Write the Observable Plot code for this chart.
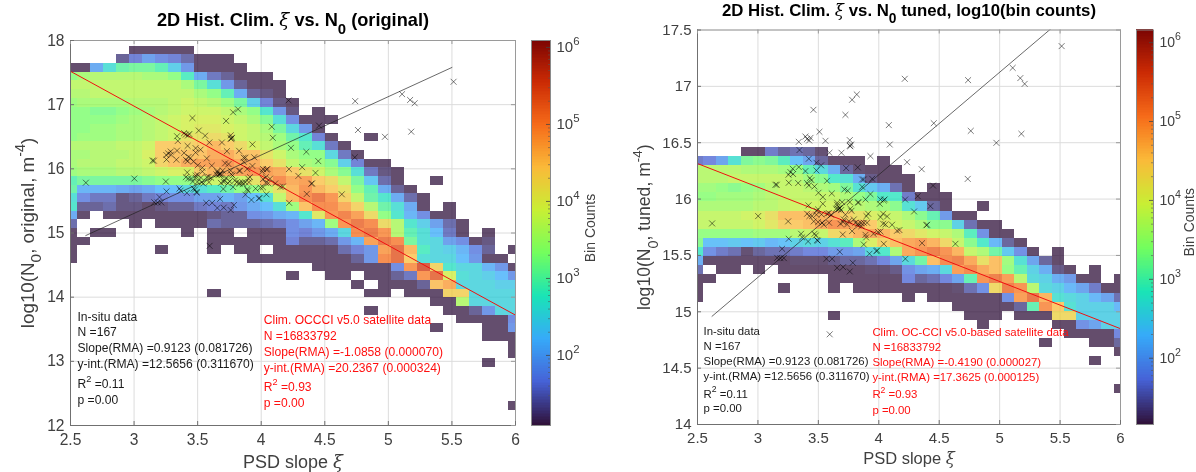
<!DOCTYPE html>
<html>
<head>
<meta charset="utf-8">
<script src="https://cdn.jsdelivr.net/npm/d3@7"></script>
<script src="https://cdn.jsdelivr.net/npm/@observablehq/plot@0.6"></script>
<style>
html,body{margin:0;padding:0;background:#fff;}
#page{position:relative;width:1196px;height:472px;overflow:hidden;filter:blur(0.4px);}
#page svg{position:absolute;top:0;overflow:visible;background:transparent;}
</style>
</head>
<body>
<div id="page"></div>
<script>
// Column bins of PSD slope (both panels)
const xBinFirst = 2.5, xBinWidth = 0.102941;

// Bin counts, log10 x 10; each row = [first column, value, value, ...], 0 = empty bin
const leftTop = 17.91, leftStep = 0.1352;
const leftRows = [
[5,11,11,11,11,11],
[4,13,16,19,17,16,14,11,11,11],
[0,11,11,20,26,30,31,31,29,24,18,11,11,11,11],
[0,33,35,36,36,36,36,35,35,33,28,20,15,13,11,11,11],
[0,37,37,37,37,37,37,37,37,37,35,31,26,18,13,11,11,11],
[0,36,36,37,37,37,37,37,37,37,37,35,33,29,20,13,12,11],
[0,34,35,35,35,35,36,36,36,37,38,37,36,34,31,24,16,12,11],
[0,33,33,32,32,33,34,35,36,37,38,38,38,37,35,33,27,18,12,0,11],
[0,33,33,33,33,34,35,36,37,38,39,39,39,38,37,35,32,26,17,11,11,11],
[0,33,33,34,34,35,35,36,37,38,39,40,40,39,38,37,35,31,25,18,11],
[0,33,34,34,34,35,35,36,37,38,41,41,42,41,38,37,36,34,30,27,16,11,0,0,11],
[0,36,36,36,36,37,37,38,44,44,43,44,46,44,42,39,37,35,33,29,26,15,11],
[0,35,35,36,36,36,37,39,44,45,45,45,47,47,45,45,41,38,35,33,33,25,15,11],
[0,35,36,36,36,37,37,38,43,45,47,48,48,49,47,47,44,41,37,35,34,32,24,16,11,11],
[0,34,35,35,35,36,36,37,38,39,39,44,46,47,48,49,48,47,44,41,38,35,32,26,15,12,11],
[0,29,31,31,31,31,31,32,33,33,33,36,38,37,38,41,46,50,47,48,44,42,37,31,23,14,11,0,0,11],
[0,30,21,21,21,20,19,20,22,22,25,26,28,30,33,33,37,41,46,49,46,44,41,33,29,20,13,11],
[0,26,17,15,15,12,13,15,16,17,17,19,19,21,19,22,26,37,46,50,52,49,43,37,30,27,20,14,11],
[0,27,13,13,14,12,12,11,12,13,13,15,16,15,18,20,22,26,34,45,50,50,47,43,36,30,26,20,11,0,11],
[0,20,11,0,11,11,11,11,11,11,11,11,12,13,13,17,18,20,21,27,40,49,51,48,42,33,27,21,17,11,11],
[0,14,0,0,0,0,11,0,11,11,11,11,14,13,13,13,14,15,17,19,21,34,49,52,50,42,36,27,24,19,14,11],
[0,11,0,11,11,0,0,0,0,0,11,0,11,11,0,11,11,11,17,16,18,20,25,50,52,49,36,29,26,22,15,11,0,11],
[0,11,11,0,0,0,0,0,0,0,0,0,11,11,11,11,11,11,16,13,13,14,18,21,48,52,50,31,26,25,19,17,11,12],
[0,11,0,0,0,0,0,0,11,0,0,0,11,0,11,11,0,11,11,11,11,11,14,16,18,48,53,46,28,25,24,21,17,13,0,11],
[0,11,0,0,0,0,0,0,0,0,0,0,0,0,0,11,11,11,11,11,11,11,11,13,18,50,53,44,26,25,25,22,18,11,11],
[19,11,11,11,11,11,11,17,49,55,43,27,25,25,21,18,11],
[17,11,0,0,11,11,0,11,11,13,15,49,53,39,26,25,24,22,18],
[22,11,0,11,11,11,13,45,47,25,25,25,24,24],
[11,11,0,0,0,0,0,0,0,0,0,0,0,11,11,0,11,11,11,43,43,25,25,25,25],
[28,11,11,36,25,25,25,25],
[23,11,0,0,0,0,0,11,11,13,18,25,25],
[30,11,11,11,11,17],
[28,11,0,0,0,11,11,18],
[32,11,11,11],
[34,11],
[34,11],
[32,11],
[],[],[],[],
[34,11]
];

const rightTop = 16.459, rightStep = 0.0808;
const rightRows = [
[4,11,11,16,14,15,14,12],
[0,16,17,20,27,32,33,32,29,23,20,14,11,11,11,0,11],
[0,37,37,37,37,36,36,36,35,34,30,26,21,14,12,11,11,11],
[0,37,37,37,38,38,38,38,38,37,35,33,28,27,21,13,11,11,11],
[0,35,35,34,33,34,35,37,38,38,37,36,35,32,27,24,21,15,11,0,11],
[0,34,34,35,35,35,36,37,38,38,38,38,38,36,34,32,28,28,16,11,11,11],
[0,36,36,36,36,36,37,37,38,39,39,39,39,38,37,36,35,33,27,24,14,11,0,0,11],
[0,38,38,38,38,39,40,42,46,46,46,47,47,44,42,40,39,38,36,33,30,19,11,11],
[0,38,38,38,38,38,39,41,44,45,46,48,50,49,48,45,41,39,38,36,33,33,25,15,11,11],
[0,34,34,34,34,34,35,35,35,37,38,38,43,45,47,48,47,45,43,41,39,38,36,29,18,11,11],
[0,33,23,23,24,23,24,22,23,25,26,25,27,29,36,40,44,46,48,49,47,43,38,33,28,22,14,11],
[0,28,18,16,15,12,14,15,15,16,17,17,19,19,20,26,28,36,48,50,52,50,47,38,36,31,24,18,11,0,11],
[0,21,11,11,11,11,11,11,11,12,12,12,13,14,14,15,17,20,26,31,46,51,52,48,42,46,35,27,20,14,11],
[0,15,0,11,11,0,11,0,11,11,11,11,11,11,11,12,12,13,18,20,21,26,49,51,48,46,34,30,25,21,13,11,0,11],
[0,11,11,0,0,0,0,0,0,0,0,0,11,11,11,11,11,11,17,14,15,17,20,30,50,52,49,37,26,25,21,19,11,11,0,11],
[0,11,0,0,0,0,0,0,11,0,0,0,11,0,11,11,11,11,11,11,11,11,12,15,18,43,52,50,37,26,25,22,20,16,11,11],
[0,11,0,0,0,0,0,0,0,0,0,0,0,0,0,0,0,0,11,0,11,11,11,11,11,11,18,49,53,47,27,26,25,22,20,15],
[21,11,11,11,11,11,14,30,50,45,27,25,25,25,22],
[11,11,0,0,0,0,0,0,0,0,0,0,11,11,11,0,11,11,11,43,43,25,25,25,25],
[23,11,0,0,0,0,0,11,11,18,20,25,25],
[30,11,11,11,11,17],
[28,11,0,0,0,11,11,14],
[34,11],
[32,11],
[],[],
[34,11]
];

// In-situ data: PSD slope and log10(N0), same 167 stations on both panels
const insituX = [3.344,3.421,3.484,3.523,3.592,3.691,3.765,3.931,3.73,3.826,3.269,3.288,3.338,3.253,3.291,3.393,3.484,3.145,3.156,3.255,3.333,3.407,3.429,3.443,3.421,3.468,3.572,3.501,3.537,3.611,3.716,3.743,3.862,3.876,3.862,3.945,3.931,3.89,4.014,4.049,4.008,4.041,3.418,3.537,3.655,3.697,3.76,3.826,3.834,3.647,3.674,3.688,3.765,3.774,3.724,3.498,3.484,3.002,2.621,3.25,3.407,3.484,3.448,3.526,3.572,3.912,3.898,4.036,4.014,4.069,3.498,3.462,3.589,3.705,3.752,3.807,3.829,3.854,3.876,3.903,4.036,4.055,4.11,3.357,3.366,3.468,3.479,3.702,3.779,3.89,3.895,3.956,3.994,4.014,4.151,4.171,4.4,3.255,3.415,3.49,3.495,3.876,4.041,4.358,3.2,3.677,3.923,3.981,3.986,4.22,3.159,3.186,3.214,3.567,3.614,3.785,3.655,3.705,3.76,3.459,3.509,3.724,3.779,3.818,4.083,3.393,3.407,3.435,3.424,3.338,3.559,3.76,3.771,3.76,4.091,4.215,4.739,5.108,5.171,5.207,5.513,4.455,4.761,5.18,4.973,4.234,4.355,4.736,4.449,4.322,4.218,4.427,4.292,4.394,4.634,3.594,3.677,3.666,3.586,3.606,3.71,3.738,3.829,3.856,3.531,3.545,3.426,3.683,3.655,3.793];
const insituY = [16.435,16.358,16.322,16.299,16.411,16.411,16.47,16.381,16.275,16.281,16.239,16.269,16.284,16.216,16.222,16.248,16.254,16.127,16.127,16.145,16.142,16.142,16.186,16.168,16.121,16.112,16.162,16.056,16.018,16.05,16.086,16.074,16.174,16.174,16.109,16.18,16.044,15.997,15.997,15.997,15.958,15.988,15.944,15.958,15.967,15.973,15.973,15.97,15.97,15.914,15.914,15.902,15.914,15.896,15.861,15.908,15.896,15.849,15.784,15.802,15.87,15.861,15.849,15.864,15.87,15.87,15.849,15.87,15.84,15.846,15.796,15.802,15.79,15.796,15.805,15.79,15.781,15.787,15.79,15.79,15.781,15.775,15.772,15.692,15.66,15.692,15.677,15.686,15.716,15.683,15.66,15.692,15.707,15.713,15.719,15.725,15.772,15.648,15.624,15.636,15.63,15.597,15.603,15.609,15.559,15.532,15.515,15.538,15.544,15.47,15.479,15.476,15.476,15.47,15.47,15.435,15.39,15.396,15.358,16.792,16.597,16.747,16.881,16.928,16.656,16.555,16.534,16.543,16.52,16.508,16.517,16.523,16.484,16.472,16.484,17.067,17.055,17.164,17.073,17.022,17.357,16.673,16.605,16.579,16.499,16.327,16.265,16.179,16.12,16.026,15.996,15.937,15.89,15.768,15.603,14.8,15.923,15.908,15.876,15.861,15.819,15.775,15.766,15.76,15.79,15.772,15.849,15.781,15.949,15.819];

// Fit lines (endpoints)
const insituFitX = [2.62, 5.5], insituFitY = [14.96, 17.58];
const leftFitX = [2.5, 6], leftFitY = [17.52, 13.72];
const rightFitX = [2.5, 6], rightFitY = [16.315, 14.85];

// Tick labels
const xTicks = [2.5,3,3.5,4,4.5,5,5.5,6];
const leftYTicks = [12,13,14,15,16,17,18];
const rightYTicks = [14,14.5,15,15.5,16,16.5,17,17.5];
const cbarTicks = [1e2,1e3,1e4,1e5,1e6];

// Annotation blocks
const insituLines = ["In-situ data","N =167","Slope(RMA) =0.9123 (0.081726)","y-int.(RMA) =12.5656 (0.311670)","R^{2} =0.11","p =0.00"];
const leftSatLines = ["Clim. OCCCI v5.0 satellite data","N =16833792","Slope(RMA) =-1.0858 (0.000070)","y-int.(RMA) =20.2367 (0.000324)","R^{2} =0.93","p =0.00"];
const rightSatLines = ["Clim. OC-CCI v5.0-based satellite data","N =16833792","Slope(RMA) =-0.4190 (0.000027)","y-int.(RMA) =17.3625 (0.000125)","R^{2} =0.93","p =0.00"];
const leftInsituYs = [13.69,13.45,13.20,12.95,12.65,12.39];
const leftSatYs = [13.65,13.40,13.15,12.90,12.60,12.35];
const rightInsituYs = [14.83,14.695,14.56,14.43,14.27,14.14];
const rightSatYs = [14.816,14.686,14.55,14.42,14.266,14.13];

const turboStops = ["#30123B","#4662D7","#36AAF9","#1AE4B6","#72FE5E","#C8EF34","#FABA39","#F66B19","#CB2A04","#7A0403"];
const turbo = d3.piecewise(d3.interpolateRgb, turboStops);

const font = "'Liberation Sans', Arial, sans-serif";
const inkGray = "#404040";

function cellsFrom(rows, top, step) {
  const out = [];
  rows.forEach((row, k) => {
    const start = row[0];
    row.slice(1).forEach((v, i) => {
      if (v > 0) {
        const c = start + i;
        const xc = xBinFirst + c * xBinWidth;
        out.push({x1: xc - xBinWidth / 2, x2: xc + xBinWidth / 2, y1: top - step * (k + 1), y2: top - step * k, v: v / 10});
      }
    });
  });
  return out;
}

// turn ^{..}, _{..} and the xi into real tspans
function rich(svg) {
  const NS = "http://www.w3.org/2000/svg";
  svg.querySelectorAll("text, tspan").forEach(el => {
    if (el.children.length) return;
    const s = el.textContent;
    if (!/\^\{|_\{|ξ/.test(s)) return;
    const fs = parseFloat(el.closest("[font-size]") ? el.closest("[font-size]").getAttribute("font-size") : 12) || 12;
    el.textContent = "";
    let pending = 0;
    s.split(/(\^\{.+?\}|_\{.+?\}|ξ)/).filter(p => p !== "").forEach(p => {
      const t = document.createElementNS(NS, "tspan");
      let shift = 0, size = null;
      if (p.startsWith("^{")) { shift = -0.48 * fs; size = 0.76 * fs; t.textContent = p.slice(2, -1); }
      else if (p.startsWith("_{")) { shift = 0.42 * fs; size = 0.82 * fs; t.textContent = p.slice(2, -1); }
      else if (p === "ξ") { t.textContent = p; t.setAttribute("font-family", "'DejaVu Serif', serif"); t.setAttribute("font-style", "italic"); t.setAttribute("font-weight", "normal"); }
      else t.textContent = p;
      if (size) t.setAttribute("font-size", size);
      const dy = pending + shift;
      if (dy) t.setAttribute("dy", dy);
      pending = -shift;
      el.appendChild(t);
    });
  });
}

function panel(o) {
  const innerH = o.height - o.mt - o.mb;
  const innerW = o.width - o.ml - o.mr;
  const fig = Plot.plot({
    width: o.width, height: o.height,
    marginLeft: o.ml, marginRight: o.mr, marginTop: o.mt, marginBottom: o.mb,
    style: {fontFamily: font, background: "transparent", color: inkGray, overflow: "visible"},
    x: {domain: [2.5, 6], label: null},
    y: {domain: o.yDomain, label: null},
    color: {type: "linear", domain: o.cDomain, interpolate: () => turbo, clamp: true},
    marks: [
      Plot.gridX(xTicks, {stroke: "#dcdcdc", strokeOpacity: 1, strokeWidth: 1}),
      Plot.gridY(o.yTicks, {stroke: "#dcdcdc", strokeOpacity: 1, strokeWidth: 1}),
      Plot.rect(o.cells, {x1: "x1", x2: "x2", y1: "y1", y2: "y2", fill: "v", fillOpacity: 0.75, clip: true, shapeRendering: "crispEdges"}),
      Plot.line(xyRows(o.fitX, o.fitY), {x: "x", y: "y", stroke: "#f01010", strokeWidth: 1, clip: true}),
      Plot.line(xyRows(insituFitX, insituFitY), {x: "x", y: "y", stroke: "#202020", strokeWidth: 0.8, strokeOpacity: 0.85, clip: true}),
      Plot.dot(xyRows(insituX, insituY), {x: "x", y: "y", symbol: "times", r: 2.8, stroke: "#000", strokeWidth: 0.65, strokeOpacity: 0.8}),
      Plot.frame({stroke: "#9a9a9a", strokeWidth: 1}),
      Plot.ruleX([2.5], {stroke: "#707070"}),
      Plot.ruleY([o.yDomain[0]], {stroke: "#707070"}),
      Plot.ruleX(xTicks, {x: d => d, stroke: "#707070", insetTop: innerH - 4}),
      Plot.ruleX(xTicks, {x: d => d, stroke: "#9a9a9a", insetBottom: innerH - 4}),
      Plot.ruleY(o.yTicks, {y: d => d, stroke: "#707070", insetRight: innerW - 4}),
      Plot.ruleY(o.yTicks, {y: d => d, stroke: "#9a9a9a", insetLeft: innerW - 4}),
      Plot.axisX(xTicks, {anchor: "bottom", tickSize: 0, tickPadding: 8, fontSize: o.tickFont, fill: inkGray, label: null, tickFormat: d => String(d)}),
      Plot.axisY(o.yTicks, {anchor: "left", tickSize: 0, tickPadding: 6, fontSize: o.tickFont, fill: inkGray, label: null, tickFormat: d => String(d)}),
      Plot.text(["2D Hist. Clim. ξ vs. N_{0} " + o.titleTail], {frameAnchor: "top", dy: o.titleDy, fontSize: o.titleSize, fontWeight: "bold", fill: "#000", lineAnchor: "middle"}),
      Plot.text(["PSD slope ξ"], {frameAnchor: "bottom", dy: o.xLabelDy, fontSize: o.xLabelSize, fill: inkGray, lineAnchor: "middle"}),
      Plot.text([o.yLabel], {frameAnchor: "left", textAnchor: "middle", dx: o.yLabelDx, rotate: -90, fontSize: o.yLabelSize, fill: inkGray, lineAnchor: "middle"}),
      Plot.text(insituLines, {x: o.insituX, y: (d, i) => o.insituYs[i], text: d => d, textAnchor: "start", fontSize: o.noteSize, fill: "#1a1a1a", lineAnchor: "middle"}),
      Plot.text(o.satLines, {x: o.satX, y: (d, i) => o.satYs[i], text: d => d, textAnchor: "start", fontSize: o.noteSize, fill: "#ff1010", lineAnchor: "middle"})
    ]
  });
  fig.style.left = o.left + "px";
  rich(fig);
  document.getElementById("page").appendChild(fig);
}

function xyRows(xs, ys) { return xs.map((x, i) => ({x, y: ys[i]})); }

function colorbar(o) {
  const innerW = o.width - o.ml - o.mr;
  const steps = d3.range(o.cDomain[0], o.cDomain[1], 0.02);
  const minor = [];
  for (const decade of cbarTicks) for (const m of [2,3,4,5,6,7,8,9]) {
    const v = decade * m;
    if (Math.log10(v) < o.cDomain[1]) minor.push(v);
  }
  for (const m of [3,4,5,6,7,8,9]) minor.push(10 * m);
  const fig = Plot.plot({
    width: o.width, height: o.height,
    marginLeft: o.ml, marginRight: o.mr, marginTop: o.mt, marginBottom: o.mb,
    style: {fontFamily: font, background: "transparent", color: inkGray, overflow: "visible"},
    y: {type: "log", domain: [Math.pow(10, o.cDomain[0]), Math.pow(10, o.cDomain[1])], label: null},
    color: {type: "linear", domain: o.cDomain, interpolate: () => turbo, clamp: true},
    marks: [
      Plot.rect(steps, {y1: d => Math.pow(10, d), y2: d => Math.pow(10, d + 0.022), fill: d => d, shapeRendering: "crispEdges"}),
      Plot.frame({stroke: "#8a8a8a", strokeWidth: 1}),
      Plot.ruleY(minor, {y: d => d, stroke: "#555", strokeWidth: 0.6, insetLeft: innerW - 2}),
      Plot.ruleY(cbarTicks, {y: d => d, stroke: "#444", strokeWidth: 0.8, insetLeft: innerW - 4}),
      Plot.axisY(cbarTicks, {anchor: "right", tickSize: 0, tickPadding: 6, fontSize: o.tickFont, fill: inkGray, label: null,
        tickFormat: d => "10^{" + Math.round(Math.log10(d)) + "}"}),
      Plot.text(["Bin Counts"], {frameAnchor: "right", textAnchor: "middle", dx: o.labelDx, dy: o.labelDy, rotate: -90, fontSize: 14, fill: inkGray, lineAnchor: "middle"})
    ]
  });
  fig.style.left = o.left + "px";
  rich(fig);
  document.getElementById("page").appendChild(fig);
}

panel({
  left: 0, width: 598, height: 472, ml: 70, mr: 83, mt: 40, mb: 47,
  yDomain: [12, 18], yTicks: leftYTicks, cDomain: [1.09, 6.09], tickFont: 15.6,
  cells: cellsFrom(leftRows, leftTop, leftStep),
  fitX: leftFitX, fitY: leftFitY,
  titleTail: "(original)", titleDy: -20, titleSize: 18.2, xLabelDy: 37, xLabelSize: 18, yLabelDx: -43, yLabelSize: 18.8,
  yLabel: "log10(N_{0}, original, m^{-4})",
  insituX: 2.555, insituYs: leftInsituYs, satLines: leftSatLines, satX: 4.02, satYs: leftSatYs, noteSize: 12.1
});
colorbar({left: 525, width: 72, height: 472, ml: 6, mr: 47, mt: 40, mb: 47, cDomain: [1.09, 6.09], tickFont: 15, labelDx: 40, labelDy: -5});

panel({
  left: 598, width: 598, height: 472, ml: 99, mr: 76, mt: 29.5, mb: 48,
  yDomain: [14, 17.5], yTicks: rightYTicks, cDomain: [1.16, 6.16], tickFont: 15,
  cells: cellsFrom(rightRows, rightTop, rightStep),
  fitX: rightFitX, fitY: rightFitY,
  titleTail: "tuned, log10(bin counts)", titleDy: -19, titleSize: 16.8, xLabelDy: 34, xLabelSize: 16.5, yLabelDx: -53, yLabelSize: 17.6,
  yLabel: "log10(N_{0}, tuned, m^{-4})",
  insituX: 2.55, insituYs: rightInsituYs, satLines: rightSatLines, satX: 3.947, satYs: rightSatYs, noteSize: 11.4
});
colorbar({left: 1130, width: 66, height: 472, ml: 6, mr: 43, mt: 29.5, mb: 48, cDomain: [1.16, 6.16], tickFont: 14, labelDx: 36, labelDy: -5});
</script>
</body>
</html>
